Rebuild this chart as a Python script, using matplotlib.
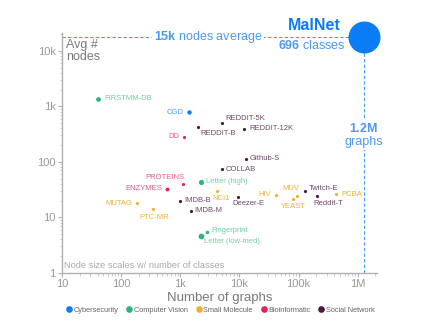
import matplotlib
matplotlib.use("Agg")
from matplotlib import pyplot as plt
from matplotlib.lines import Line2D
from matplotlib.ticker import FixedLocator, FixedFormatter

# values
names = [
    "FIRSTMM-DB", "CGD", "DD", "REDDIT-B", "REDDIT-5K", "REDDIT-12K",
    "Github-S", "COLLAB", "Letter (high)", "NCI1", "Deezer-E", "HIV",
    "YEAST", "MUV", "Twitch-E", "Reddit-T", "PCBA", "Fingerprint",
    "Letter (low-med)", "PROTEINS", "ENZYMES", "IMDB-B", "IMDB-M",
    "MUTAG", "PTC-MR",
]
domains = [
    "Computer Vision", "Cybersecurity", "Bioinformatic", "Social Network",
    "Social Network", "Social Network", "Social Network", "Social Network",
    "Computer Vision", "Small Molecule", "Social Network", "Small Molecule",
    "Small Molecule", "Small Molecule", "Social Network", "Social Network",
    "Small Molecule", "Computer Vision", "Computer Vision", "Bioinformatic",
    "Bioinformatic", "Social Network", "Social Network", "Small Molecule",
    "Small Molecule",
]
num_graphs = [
    41, 1380, 1178, 2000, 5000, 11929, 12725, 5000, 2250, 4110, 9629, 41127,
    79601, 93087, 127094, 203088, 437929, 2800, 2250, 1113, 600, 1000, 1500,
    188, 344,
]
avg_nodes = [
    1377, 790, 284, 430, 508, 391, 113, 74.5, 44, 29.8, 23, 25.5, 21.5, 24.4,
    29.7, 24, 26, 5.4, 4.6, 39, 32.6, 19.8, 13, 18, 14.1,
]
# MalNet sits at the top-right corner (drawn slightly above its 15k label)
malnet_graphs = 1.26e6
malnet_nodes = 17.5e3

domain_order = ["Cybersecurity", "Computer Vision", "Small Molecule",
                "Bioinformatic", "Social Network"]

# styling / layout
dot_color = {
    "Cybersecurity": "#0a7cf5",
    "Computer Vision": "#2fb57c",
    "Small Molecule": "#f0b22e",
    "Bioinformatic": "#e3245c",
    "Social Network": "#4a1a45",
}
label_color = {
    "Cybersecurity": "#4a9af5",
    "Computer Vision": "#6fcfa3",
    "Small Molecule": "#f0b030",
    "Bioinformatic": "#ec5a88",
    "Social Network": "#6e4868",
}
big_dots = {"Letter (high)": 5.2, "Letter (low-med)": 5.8, "FIRSTMM-DB": 4.8,
            "CGD": 4.4, "ENZYMES": 3.9, "Fingerprint": 3.6}
# label offsets in pixels: (dx, dy, ha)
label_pos = {
    "FIRSTMM-DB": (6, 0, "left"), "CGD": (-5, 0, "right"), "DD": (-5, 0, "right"),
    "REDDIT-B": (2, -6.5, "left"), "REDDIT-5K": (4, 4.5, "left"),
    "REDDIT-12K": (5, 0, "left"), "Github-S": (4, 0, "left"),
    "COLLAB": (4, -0.5, "left"), "Letter (high)": (5, 0, "left"),
    "NCI1": (-4.5, -8, "left"), "Deezer-E": (-6, -6, "left"),
    "HIV": (-5, 0, "right"), "YEAST": (1, -7.5, "center"),
    "MUV": (-6, 7.5, "center"), "Twitch-E": (4, 3, "left"),
    "Reddit-T": (-3, -7, "left"), "PCBA": (5, 0, "left"),
    "Fingerprint": (5, 1.5, "left"), "Letter (low-med)": (3, -5.5, "left"),
    "PROTEINS": (1, 6.5, "right"), "ENZYMES": (-5, 0, "right"),
    "IMDB-B": (4, 0, "left"), "IMDB-M": (4, 0, "left"),
    "MUTAG": (-5, 0, "right"), "PTC-MR": (1, -9, "center"),
}
PX = 0.72  # points per pixel at dpi 100

plt.rcParams["font.family"] = ["Liberation Sans", "DejaVu Sans"]
plt.rcParams["mathtext.fontset"] = "custom"
plt.rcParams["mathtext.rm"] = "Liberation Sans"
plt.rcParams["mathtext.bf"] = "Liberation Sans:bold"

fig = plt.figure(figsize=(4.27, 3.27), dpi=100)
ax = fig.add_axes([0.1452, 0.166, 0.737, 0.733])
ax.set_xscale("log")
ax.set_yscale("log")
ax.set_xlim(10, 2.1e6)
ax.set_ylim(1, 2.1e4)

blue = "#4a9af5"
ax.plot([10, malnet_graphs], [malnet_nodes, malnet_nodes], ls=(0, (3, 2)),
        lw=0.8, color=blue, zorder=1, clip_on=False)
ax.plot([malnet_graphs, malnet_graphs], [1, malnet_nodes], ls=(0, (3, 2)),
        lw=0.8, color=blue, zorder=1, clip_on=False)
ax.scatter([malnet_graphs], [malnet_nodes], s=(32 * PX) ** 2,
           color=dot_color["Cybersecurity"], zorder=3, clip_on=False, lw=0)

for name, dom, x, y in zip(names, domains, num_graphs, avg_nodes):
    d = big_dots.get(name, 3.2)
    ax.plot([x], [y], "o", ms=d * PX, mew=0, color=dot_color[dom], zorder=3)
    dx, dy, ha = label_pos[name]
    ax.annotate(name, (x, y), xytext=(dx * PX, dy * PX), textcoords="offset points",
                ha=ha, va="center", fontsize=5.5, color=label_color[dom])

# annotations for MalNet
ax.text(0.464, malnet_nodes, r"$\mathbf{15k}$ nodes average", transform=ax.get_yaxis_transform(),
        ha="center", va="center", fontsize=9, color=blue,
        bbox=dict(facecolor="white", edgecolor="none", pad=1.5), zorder=2)
ax.text(0.885, 1.03, "MalNet", transform=ax.transAxes, ha="right", va="center",
        fontsize=11.5, fontweight="bold", color=dot_color["Cybersecurity"])
ax.text(0.902, 0.946, r"$\mathbf{696}$ classes", transform=ax.transAxes,
        ha="right", va="center", fontsize=9, color=blue)
ax.text(malnet_graphs, 0.574, r"$\mathbf{1.2M}$" + "\ngraphs", transform=ax.get_xaxis_transform(),
        ha="center", va="center", fontsize=9, color=blue, linespacing=1.1,
        bbox=dict(facecolor="white", edgecolor="none", pad=1.5), zorder=2)

ax.text(0.013, 0.975, "Avg #\nnodes", transform=ax.transAxes, ha="left", va="top",
        fontsize=9, color="#7a7a7a", linespacing=1.05)
ax.text(0.007, 0.032, "Node size scales w/ number of classes", transform=ax.transAxes,
        ha="left", va="center", fontsize=6.7, color="#aaaaaa")

# axes styling
for side in ["top", "right"]:
    ax.spines[side].set_visible(False)
for side in ["left", "bottom"]:
    ax.spines[side].set_color("#b0b0b0")
    ax.spines[side].set_linewidth(1.0)
ax.xaxis.set_major_locator(FixedLocator([10, 100, 1e3, 1e4, 1e5, 1e6]))
ax.xaxis.set_major_formatter(FixedFormatter(["10", "100", "1k", "10k", "100k", "1M"]))
ax.yaxis.set_major_locator(FixedLocator([1, 10, 100, 1e3, 1e4]))
ax.yaxis.set_major_formatter(FixedFormatter(["1", "10", "100", "1k", "10k"]))
ax.tick_params(which="major", length=3, width=0.8, color="#b0b0b0",
               labelcolor="#999999", labelsize=8, pad=1.5)
ax.tick_params(which="minor", length=1.8, width=0.6, color="#c0c0c0")
ax.set_xlabel("Number of graphs", fontsize=9.5, color="#7a7a7a", labelpad=2)

handles = [Line2D([], [], ls="none", marker="o", ms=4.8, mew=0, color=dot_color[d])
           for d in domain_order]
fig.legend(handles, domain_order, loc="center", bbox_to_anchor=(0.515, 0.052),
           ncol=5, frameon=False, handletextpad=0.1, columnspacing=1.0,
           handlelength=1.0, prop={"size": 5.3}, labelcolor="#666666")

fig.savefig("out.png", dpi=100)
